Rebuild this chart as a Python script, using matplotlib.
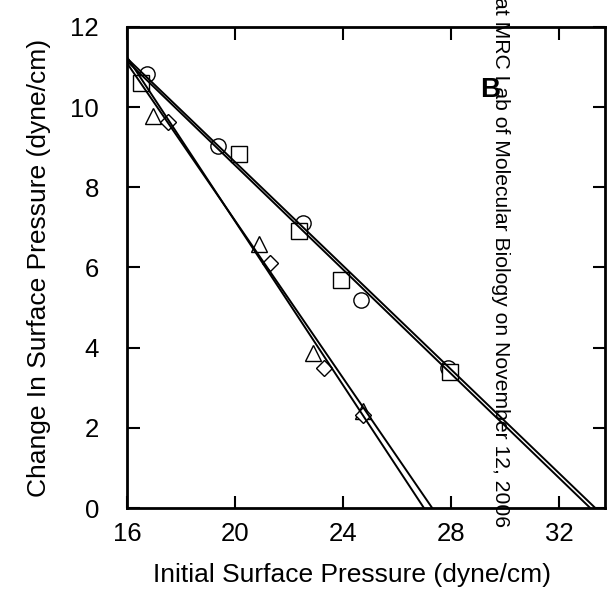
import matplotlib
matplotlib.use("Agg")
import matplotlib.pyplot as plt
import numpy as np

plt.rcParams['font.family'] = ['Liberation Sans', 'DejaVu Sans']

# datos
circ_x = [16.75, 19.37, 22.53, 24.67, 27.9]
circ_y = [10.83, 9.03, 7.1, 5.2, 3.49]
sq_x = [16.52, 20.15, 22.38, 23.91, 27.96]
sq_y = [10.6, 8.83, 6.9, 5.68, 3.39]
tri_x = [16.97, 20.89, 22.9, 24.75]
tri_y = [9.78, 6.58, 3.87, 2.41]
dia_x = [17.53, 21.3, 23.3, 24.75]
dia_y = [9.63, 6.12, 3.49, 2.32]

# rectas ajustadas (pendiente, ordenada en x=16)
fit_slopes = [-0.647, -0.650, -1.023, -0.982]
fit_y16 = [11.22, 11.15, 11.25, 11.10]

xticks = [16, 20, 24, 28, 32]
yticks = [0, 2, 4, 6, 8, 10, 12]

fig = plt.figure(figsize=(6.13, 5.97), dpi=100)
ax = fig.add_axes([0.207, 0.149, 0.780, 0.806])

xx = np.array([16, 34])
for m, b in zip(fit_slopes, fit_y16):
    ax.plot(xx, b + m * (xx - 16), color='black', lw=1.4, zorder=4)

mk = dict(mfc='white', mec='black', mew=1.0, ls='none', zorder=3)
ax.plot(circ_x, circ_y, marker='o', ms=11, **mk)
ax.plot(sq_x, sq_y, marker='s', ms=11.5, **mk)
ax.plot(tri_x, tri_y, marker='^', ms=12, **mk)
ax.plot(dia_x, dia_y, marker='D', ms=8.5, **mk)

ax.set_xlim(16, 33.7)
ax.set_ylim(0, 12)
ax.set_xticks(xticks)
ax.set_yticks(yticks)
ax.tick_params(direction='in', length=9, width=1.5, labelsize=18.5,
               top=True, right=True)
ax.tick_params(axis='x', pad=10)
ax.tick_params(axis='y', pad=20)
for s in ax.spines.values():
    s.set_linewidth(2)

ax.set_xlabel("Initial Surface Pressure (dyne/cm)", fontsize=19, labelpad=16)
ax.xaxis.set_label_coords(0.47, -0.115)
ax.set_ylabel("Change In Surface Pressure (dyne/cm)", fontsize=19, labelpad=14)

fig.text(490 / 613, 1 - 90 / 597, "B", fontsize=20, fontweight='bold',
         ha='center', va='center')
fig.text(500 / 613, 1.005, "at MRC Lab of Molecular Biology on November 12, 2006",
         rotation=-90, fontsize=15.2, ha='center', va='top')

fig.savefig("out.png", dpi=100)
